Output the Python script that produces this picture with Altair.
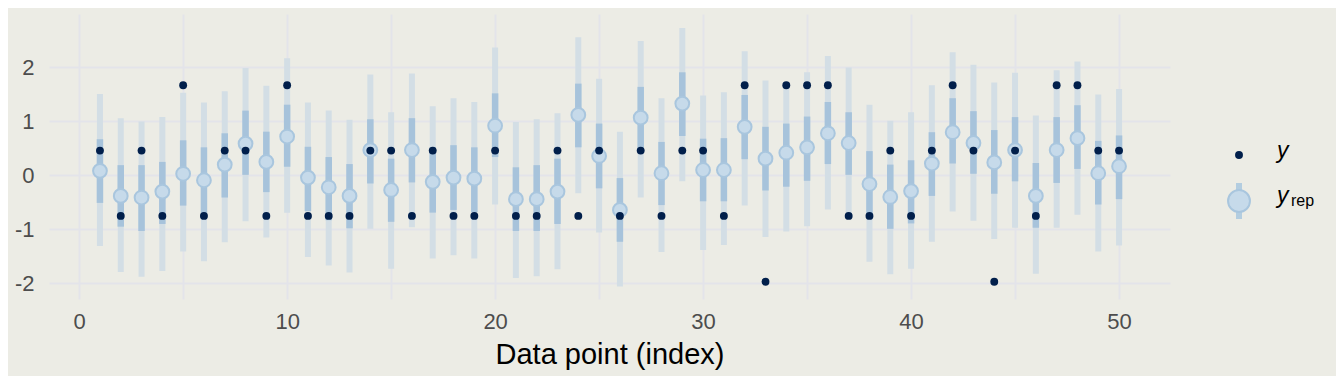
import altair as alt
import pandas as pd

idx = list(range(1, 51))
y_obs = [0.46, -0.75, 0.46, -0.75, 1.67, -0.75, 0.46, 0.46, -0.75, 1.67,
         -0.75, -0.75, -0.75, 0.46, 0.46, -0.75, 0.46, -0.75, -0.75, 0.46,
         -0.75, -0.75, 0.46, -0.75, 0.46, -0.75, 0.46, -0.75, 0.46, 0.46,
         -0.75, 1.67, -1.97, 1.67, 1.67, 1.67, -0.75, -0.75, 0.46, -0.75,
         0.46, 1.67, 0.46, -1.97, 0.46, -0.75, 1.67, 1.67, 0.46, 0.46]
med = [0.085, -0.38, -0.41, -0.30, 0.03, -0.09, 0.20, 0.59, 0.25, 0.72,
       -0.04, -0.22, -0.38, 0.47, -0.27, 0.47, -0.12, -0.04, -0.06, 0.92,
       -0.44, -0.44, -0.30, 1.12, 0.36, -0.64, 1.07, 0.04, 1.33, 0.10,
       0.10, 0.90, 0.31, 0.42, 0.52, 0.78, 0.60, -0.16, -0.40, -0.29,
       0.22, 0.80, 0.60, 0.24, 0.47, -0.38, 0.47, 0.69, 0.04, 0.17]
hi50 = [0.67, 0.19, 0.19, 0.25, 0.65, 0.52, 0.78, 1.20, 0.81, 1.31,
        0.53, 0.34, 0.21, 1.04, 0.31, 1.06, 0.52, 0.56, 0.52, 1.52,
        0.15, 0.19, 0.31, 1.70, 0.96, -0.05, 1.64, 0.62, 1.91, 0.68,
        0.69, 1.49, 0.90, 0.96, 1.09, 1.36, 1.17, 0.45, 0.20, 0.28,
        0.80, 1.43, 1.19, 0.84, 1.08, 0.23, 1.08, 1.30, 0.64, 0.74]
lo50 = [-0.51, -0.95, -1.03, -0.90, -0.56, -0.76, -0.41, 0.01, -0.31, 0.16,
        -0.66, -0.83, -0.98, -0.15, -0.86, -0.13, -0.69, -0.64, -0.68, 0.34,
        -1.03, -1.03, -0.90, 0.52, -0.24, -1.23, 0.47, -0.55, 0.73, -0.48,
        -0.48, 0.30, -0.28, -0.21, -0.10, 0.21, 0.01, -0.74, -0.99, -0.89,
        -0.38, 0.22, 0.03, -0.34, -0.11, -0.97, -0.14, 0.12, -0.54, -0.44]
hi90 = [1.51, 1.06, 1.00, 1.08, 1.53, 1.35, 1.56, 1.99, 1.66, 2.17,
        1.35, 1.20, 1.03, 1.87, 1.17, 1.89, 1.28, 1.43, 1.36, 2.37,
        0.99, 1.04, 1.15, 2.56, 1.79, 0.81, 2.49, 1.43, 2.73, 1.48,
        1.54, 2.30, 1.76, 1.72, 1.91, 2.21, 2.00, 1.31, 1.01, 1.17,
        1.67, 2.28, 2.05, 1.72, 1.90, 1.11, 1.95, 2.11, 1.50, 1.60]
lo90 = [-1.31, -1.79, -1.88, -1.77, -1.41, -1.59, -1.24, -0.85, -1.15, -0.69,
        -1.51, -1.67, -1.80, -0.99, -1.73, -0.96, -1.54, -1.48, -1.54, -0.54,
        -1.90, -1.87, -1.74, -0.33, -1.06, -2.06, -0.41, -1.42, -0.11, -1.38,
        -1.29, -0.56, -1.14, -1.04, -0.94, -0.63, -0.77, -1.60, -1.83, -1.73,
        -1.23, -0.67, -0.84, -1.18, -0.97, -1.82, -0.97, -0.73, -1.41, -1.30]

x_ticks = [0, 5, 10, 15, 20, 25, 30, 35, 40, 45, 50]
y_ticks = [-2, -1.5, -1, -0.5, 0, 0.5, 1, 1.5, 2, 2.5]

df = pd.DataFrame({"idx": idx, "y": y_obs, "med": med,
                   "lo50": lo50, "hi50": hi50, "lo90": lo90, "hi90": hi90})

BG = "#ECECE5"
FONT = "Liberation Sans"

xenc = alt.X("idx:Q", scale=alt.Scale(domain=[-1.45, 52.45], nice=False, zero=False),
             axis=alt.Axis(values=x_ticks, title="Data point (index)",
                           labelExpr="datum.value % 10 === 0 ? '' + datum.value : ''"))
yscale = alt.Scale(domain=[-2.29, 2.99], nice=False, zero=False)
yaxis = alt.Axis(values=y_ticks, title=None,
                 labelExpr="datum.value % 1 === 0 ? '' + datum.value : ''")

base = alt.Chart(df)
outer = base.mark_rule(color="#D3DEE5", strokeWidth=6).encode(
    x=xenc, y=alt.Y("lo90:Q", scale=yscale, axis=yaxis), y2="hi90:Q")
inner = base.mark_rule(color="#A7C3DB", strokeWidth=6.5).encode(
    x="idx:Q", y="lo50:Q", y2="hi50:Q")
pts = base.mark_point(filled=True, fill="#C6DAEA", stroke="#A9C6DE", strokeWidth=2,
                      size=190, opacity=1, shape="circle").encode(x="idx:Q", y="med:Q")
obs = base.mark_circle(color="#011F4B", size=62, opacity=1).encode(x="idx:Q", y="y:Q")

one = pd.DataFrame({"k": [0]})
lg = alt.Chart(one)
leg_dot = lg.mark_circle(color="#011F4B", size=62, opacity=1).encode(
    x=alt.value(1190), y=alt.value(141))
leg_bar = lg.mark_rule(color="#B3CDE0", strokeWidth=6).encode(
    x=alt.value(1190), y=alt.value(169), y2=alt.value(205))
leg_pt = lg.mark_point(filled=True, fill="#C6DAEA", stroke="#A9C6DE", strokeWidth=2,
                       size=480, opacity=1, shape="circle").encode(
    x=alt.value(1190), y=alt.value(187))
leg_t1 = lg.mark_text(text="y", font=FONT, fontSize=23, fontStyle="italic",
                      align="left", baseline="alphabetic", color="#000000").encode(
    x=alt.value(1228), y=alt.value(144))
leg_t2 = lg.mark_text(text="y", font=FONT, fontSize=23, fontStyle="italic",
                      align="left", baseline="alphabetic", color="#000000").encode(
    x=alt.value(1228), y=alt.value(189))
leg_t3 = lg.mark_text(text="rep", font=FONT, fontSize=16,
                      align="left", baseline="alphabetic", color="#000000").encode(
    x=alt.value(1242), y=alt.value(192))

chart = alt.layer(outer, inner, pts, obs, leg_dot, leg_bar, leg_pt,
                  leg_t1, leg_t2, leg_t3).properties(
    width=1121, height=285,
    autosize=alt.AutoSizeParams(type="none"),
    padding={"left": 41, "top": 6, "right": 166, "bottom": 77},
    background=BG,
).configure_view(stroke=None, fill=BG).configure_axis(
    grid=True, gridColor="#E3E4EA", gridWidth=2, domain=False, ticks=False,
    labelFont=FONT, titleFont=FONT, labelFontSize=22, labelColor="#4D4D4D",
    titleFontSize=29, titleColor="#000000", titleFontWeight="normal",
).configure_axisX(labelPadding=12, titlePadding=8).configure_axisY(labelPadding=15)

chart.save("out.html", embed_options={"renderer": "svg", "actions": False})
